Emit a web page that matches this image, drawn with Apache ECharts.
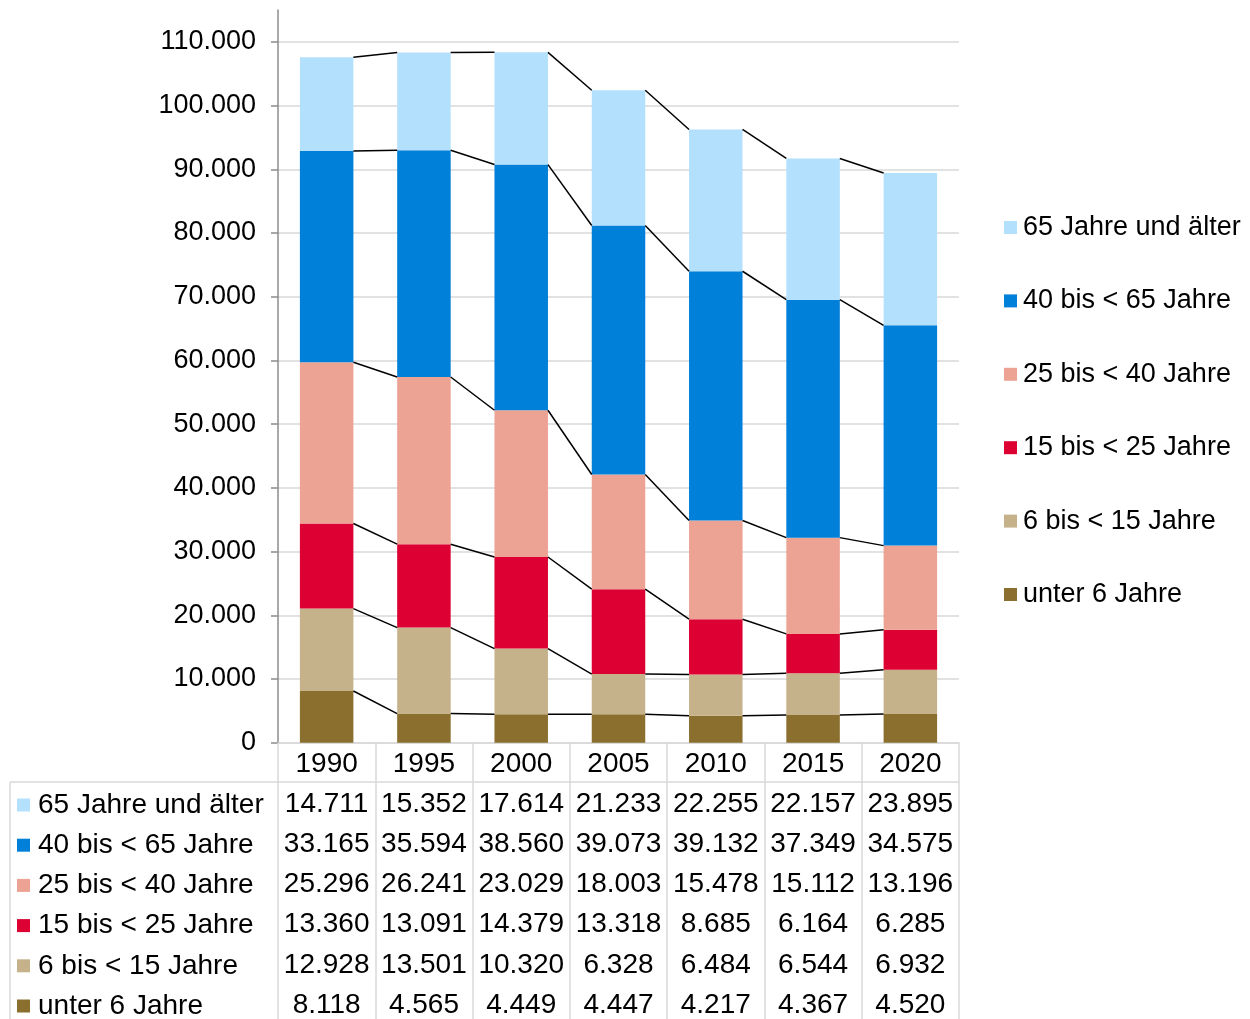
<!DOCTYPE html>
<html>
<head>
<meta charset="utf-8">
<script src="https://cdn.jsdelivr.net/npm/echarts@6/dist/echarts.min.js"></script>
<style>
  html, body { margin: 0; padding: 0; background: #fff; }
  #main { width: 1250px; height: 1019px; }
</style>
</head>
<body>
<div id="main"></div>
<script>
var years = ['1990', '1995', '2000', '2005', '2010', '2015', '2020']
// stacking order: bottom -> top
var seriesNames = ['unter 6 Jahre', '6 bis < 15 Jahre', '15 bis < 25 Jahre', '25 bis < 40 Jahre', '40 bis < 65 Jahre', '65 Jahre und älter']
var unter6 = [8118, 4565, 4449, 4447, 4217, 4367, 4520]
var bis15 = [12928, 13501, 10320, 6328, 6484, 6544, 6932]
var bis25 = [13360, 13091, 14379, 13318, 8685, 6164, 6285]
var bis40 = [25296, 26241, 23029, 18003, 15478, 15112, 13196]
var bis65 = [33165, 35594, 38560, 39073, 39132, 37349, 34575]
var ab65 = [14711, 15352, 17614, 21233, 22255, 22157, 23895]
var yTicks = [0, 10000, 20000, 30000, 40000, 50000, 60000, 70000, 80000, 90000, 100000, 110000]
var colors = ['#8b6f2e', '#c6b28a', '#dc0033', '#eda394', '#0080d9', '#b3e0fd']

var values = [unter6, bis15, bis25, bis40, bis65, ab65]
var FONT = 'Liberation Sans, Arial, sans-serif'
var BAR = 0.55

function fmt(v) {
  return String(v).replace(/\B(?=(\d{3})+(?!\d))/g, '.')
}

// cumulative tops of every stack level
var tops = []
values.forEach(function (arr, k) {
  tops.push(arr.map(function (v, i) { return (k ? tops[k - 1][i] : 0) + v }))
})

var rich = { y: { fontSize: 28, lineHeight: 40.2, fontFamily: FONT, color: '#000' } }

var series = values.map(function (arr, k) {
  return {
    name: seriesNames[k],
    type: 'bar',
    stack: 'total',
    barWidth: BAR * 100 + '%',
    itemStyle: { color: colors[k] },
    data: arr
  }
})
series.push({
  type: 'custom',
  name: 'lines',
  z: 5,
  silent: true,
  data: years.slice(0, -1).map(function (y, i) { return [i] }),
  renderItem: function (params, api) {
    var i = api.value(0)
    var half = api.size([1, 0])[0] * BAR / 2
    return {
      type: 'group',
      children: tops.map(function (t) {
        var a = api.coord([i, t[i]])
        var b = api.coord([i + 1, t[i + 1]])
        return {
          type: 'line',
          shape: { x1: a[0] + half, y1: a[1], x2: b[0] - half, y2: b[1] },
          style: { stroke: '#000', lineWidth: 1.5 }
        }
      })
    }
  }
})

// row labels of the data table (top row = top of stack)
var rowGraphics = []
for (var r = 0; r < 6; r++) {
  var k = 5 - r
  rowGraphics.push({
    type: 'text',
    left: 17,
    top: 803 + r * 40.2 - 12,
    style: {
      text: '{s|}{t|' + seriesNames[k] + '}',
      rich: {
        s: { width: 13, height: 13, backgroundColor: colors[k] },
        t: { fontSize: 28, fontFamily: FONT, fill: '#000', padding: [0, 0, 0, 8] }
      }
    }
  })
}

var myChart = echarts.init(document.getElementById('main'))
var option = {
  animation: false,
  backgroundColor: '#fff',
  grid: { left: 278, right: 291, top: 10, bottom: 276 },
  legend: {
    orient: 'vertical',
    left: 1004,
    top: 214,
    padding: 0,
    itemWidth: 13,
    itemHeight: 13,
    itemGap: 46.4,
    icon: 'rect',
    data: seriesNames.slice().reverse(),
    textStyle: { fontSize: 27, lineHeight: 27, fontFamily: FONT, color: '#000', padding: [0, 0, 0, 1] }
  },
  xAxis: {
    type: 'category',
    data: years,
    axisLine: { lineStyle: { color: '#d9d9d9', width: 1.5 } },
    axisTick: { show: true, length: 280, lineStyle: { color: '#d9d9d9', width: 1.5 } },
    axisLabel: {
      interval: 0,
      margin: 1,
      formatter: function (val, i) {
        var lines = [val]
        for (var k = 5; k >= 0; k--) lines.push(fmt(values[k][i]))
        return lines.map(function (s) { return '{y|' + s + '}' }).join('\n')
      },
      rich: rich
    }
  },
  yAxis: {
    type: 'value',
    min: 0,
    max: 115000,
    interval: 10000,
    axisLine: { show: true, lineStyle: { color: '#8c8c8c', width: 1.5 } },
    axisTick: { show: true, length: 7, customValues: yTicks, lineStyle: { color: '#8c8c8c', width: 1.5 } },
    splitLine: { lineStyle: { color: '#d9d9d9', width: 1.5 } },
    axisLabel: {
      customValues: yTicks,
      margin: 22,
      fontSize: 27,
      fontFamily: FONT,
      color: '#000',
      padding: [4, 0, 0, 0],
      formatter: function (v) { return fmt(v) }
    }
  },
  graphic: [
    { type: 'line', shape: { x1: 10, y1: 782, x2: 959, y2: 782 }, style: { stroke: '#d9d9d9', lineWidth: 1.5 } },
    { type: 'line', shape: { x1: 10, y1: 782, x2: 10, y2: 1019 }, style: { stroke: '#d9d9d9', lineWidth: 1.5 } }
  ].concat(rowGraphics),
  series: series
}
myChart.setOption(option)
</script>
</body>
</html>
